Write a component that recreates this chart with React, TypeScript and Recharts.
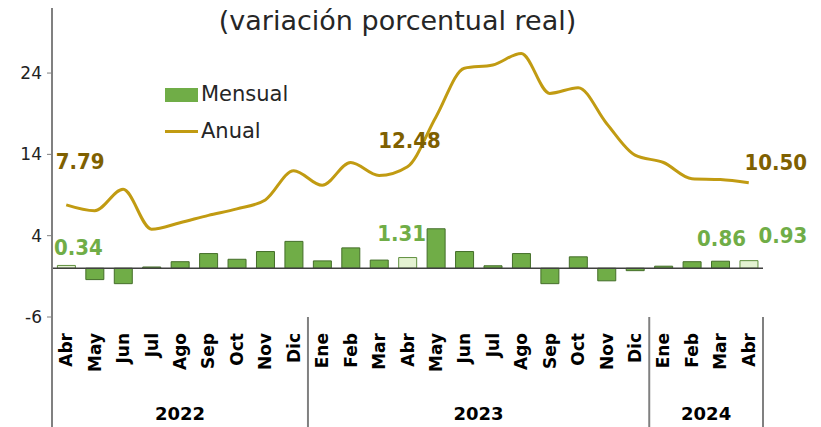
import {
  ComposedChart,
  Bar,
  Line,
  Cell,
  XAxis,
  YAxis,
  ReferenceLine,
  LabelList,
} from "recharts";

// Abr 2022 - Abr 2024
const meses = [
  "Abr", "May", "Jun", "Jul", "Ago", "Sep", "Oct", "Nov", "Dic",
  "Ene", "Feb", "Mar", "Abr", "May", "Jun", "Jul", "Ago", "Sep", "Oct", "Nov", "Dic",
  "Ene", "Feb", "Mar", "Abr",
];
const mensual = [
  0.34, -1.4, -1.9, 0.15, 0.8, 1.8, 1.1, 2.05, 3.3,
  0.9, 2.5, 1.0, 1.31, 4.85, 2.05, 0.3, 1.8, -1.9, 1.4, -1.55, -0.3,
  0.25, 0.8, 0.86, 0.93,
];
const anual = [
  7.79, 7.07, 9.7, 4.8, 5.6, 6.5, 7.3, 8.4, 12.0,
  10.2, 13.0, 11.4, 12.48, 18.6, 24.6, 25.0, 26.4, 21.5, 22.2, 17.8, 13.9,
  13.0, 11.0, 10.9, 10.5,
];
const anios = [
  { label: "2022", start: 0, count: 9 },
  { label: "2023", start: 9, count: 12 },
  { label: "2024", start: 21, count: 4 },
];
const yTicks = [-6, 4, 14, 24];
// same month as the latest one -> lighter bar
const resaltados = [0, 12, 24];

const data = meses.map((mes, i) => ({
  mes,
  mensual: mensual[i],
  anual: anual[i],
}));

const VERDE = "#70ad47";
const DORADO = "#c19b12";
const FONT = "'DejaVu Sans', sans-serif";

// label placement per point index: [dx, dy]
const lineLabelPos: Record<number, [number, number]> = {
  0: [14, -43],
  12: [2, -26],
  24: [27, -20],
};
const barLabelPos: Record<number, [number, number]> = {
  0: [12, -18],
  12: [-6, -24],
  23: [1, -23],
  24: [34, -25],
};

const numStyle = { fontStretch: "condensed" as const };

const LineLabel = (props: any) => {
  const { x, y, index, value } = props;
  const pos = lineLabelPos[index];
  if (!pos) return null;
  return (
    <text
      x={x + pos[0]}
      y={y + pos[1]}
      textAnchor="middle"
      dominantBaseline="central"
      fill="#7f6000"
      fontFamily={FONT}
      fontWeight="bold"
      fontSize={22}
      style={numStyle}
    >
      {Number(value).toFixed(2)}
    </text>
  );
};

const BarLabel = (props: any) => {
  const { x, y, width, index, value } = props;
  const pos = barLabelPos[index];
  if (!pos) return null;
  return (
    <text
      x={x + width / 2 + pos[0]}
      y={y + pos[1]}
      textAnchor="middle"
      dominantBaseline="central"
      fill={VERDE}
      fontFamily={FONT}
      fontWeight="bold"
      fontSize={22}
      style={numStyle}
    >
      {Number(value).toFixed(2)}
    </text>
  );
};

const MesTick = (props: any) => {
  const { x, y, payload, index } = props;
  const half = payload?.offset || 14.2;
  const grupo = anios.find((g) => g.start === index);
  const last = index === meses.length - 1;
  return (
    <g>
      <text
        transform={`rotate(-90, ${x}, ${y + 16})`}
        x={x}
        y={y + 16}
        textAnchor="end"
        dominantBaseline="central"
        fontFamily={FONT}
        fontWeight="bold"
        fontSize={17}
        fill="#000"
      >
        {payload.value}
      </text>
      {grupo && (
        <>
          <line x1={x - half} x2={x - half} y1={y} y2={y + 110} stroke="#808080" strokeWidth={2} />
          <text
            x={x - half + grupo.count * half}
            y={y + 96}
            textAnchor="middle"
            dominantBaseline="central"
            fontFamily={FONT}
            fontWeight="bold"
            fontSize={18}
            fill="#000"
          >
            {grupo.label}
          </text>
        </>
      )}
      {last && (
        <line x1={x + half} x2={x + half} y1={y} y2={y + 110} stroke="#808080" strokeWidth={2} />
      )}
    </g>
  );
};

const Leyenda = () => (
  <div
    style={{
      position: "absolute",
      left: 165,
      top: 76,
      fontFamily: FONT,
      fontSize: 21,
      color: "#262626",
      lineHeight: "37px",
    }}
  >
    <div style={{ display: "flex", alignItems: "center" }}>
      <span style={{ width: 33, height: 14, background: VERDE, marginRight: 3 }} />
      Mensual
    </div>
    <div style={{ display: "flex", alignItems: "center" }}>
      <span style={{ width: 33, height: 3, background: DORADO, marginRight: 3 }} />
      Anual
    </div>
  </div>
);

export default function App() {
  return (
    <div style={{ position: "absolute", left: 0, top: 0, width: 821, height: 427, background: "#fff" }}>
      <ComposedChart
        width={821}
        height={427}
        data={data}
        margin={{ top: 8, right: 58, left: 0, bottom: 0 }}
        barCategoryGap="19%"
      >
        <XAxis
          dataKey="mes"
          interval={0}
          axisLine={false}
          tickLine={false}
          tickSize={0}
          tickMargin={0}
          height={110}
          tick={<MesTick />}
        />
        <YAxis
          domain={[-6, 32]}
          ticks={yTicks}
          width={52}
          axisLine={{ stroke: "#808080", strokeWidth: 2 }}
          tickLine={{ stroke: "#808080" }}
          tickSize={5}
          tickMargin={5}
          tick={{ fill: "#222", fontSize: 17, fontFamily: FONT }}
          allowDataOverflow
        />
        <Bar dataKey="mensual" name="Mensual" isAnimationActive={false} stroke="#446e29" strokeWidth={1}>
          {data.map((_, i) => (
            <Cell
              key={i}
              fill={resaltados.includes(i) ? "#e4f2d2" : VERDE}
              stroke={resaltados.includes(i) ? "#5f8f3e" : "#446e29"}
            />
          ))}
          <LabelList dataKey="mensual" content={<BarLabel />} />
        </Bar>
        <ReferenceLine y={0} stroke="#404040" strokeWidth={1.5} />
        <Line
          dataKey="anual"
          name="Anual"
          type="monotone"
          stroke={DORADO}
          strokeWidth={3}
          dot={false}
          isAnimationActive={false}
        >
          <LabelList dataKey="anual" content={<LineLabel />} />
        </Line>
      </ComposedChart>
      <div
        style={{
          position: "absolute",
          left: 0,
          width: 795,
          top: 5,
          textAlign: "center",
          fontFamily: FONT,
          fontSize: 27,
          color: "#262626",
        }}
      >
        (variación porcentual real)
      </div>
      <Leyenda />
    </div>
  );
}
